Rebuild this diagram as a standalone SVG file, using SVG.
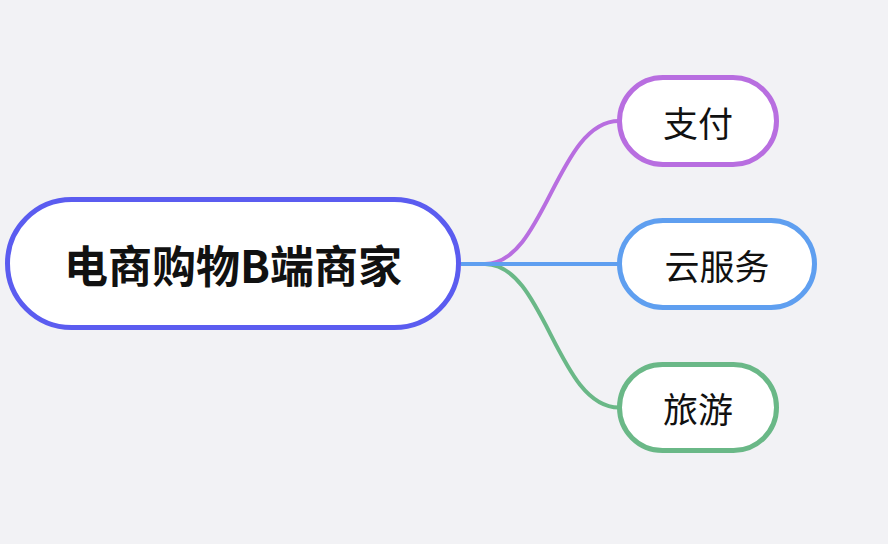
<svg xmlns="http://www.w3.org/2000/svg" width="888" height="544" viewBox="0 0 888 544">
<style>
.node{fill:#ffffff;stroke-width:5}
.lbl{font-family:"Noto Sans CJK SC","Noto Sans",sans-serif;fill:#111111;text-anchor:middle;dominant-baseline:central}
.edge{fill:none;stroke-width:4}
</style>
<rect width="888" height="544" fill="#f2f2f5"/>
<g id="connectors">
<path class="edge" d="M461 264 L485 264 C545 264 557 121 619 121" stroke="#b86ee0"/>
<path class="edge" d="M461 264 L485 264 C545 264 557 407.5 619 407.5" stroke="#6ab887"/>
<path class="edge" d="M461 264 L619 264" stroke="#5f9ff0"/>
</g>
<g id="root">
<rect class="node" x="7.5" y="199.5" width="451" height="128" rx="64" stroke="#5b5cf0"/>
<text class="lbl" x="233" y="264" font-size="44" font-weight="bold">电商购物B端商家</text>
</g>
<g id="n-pay">
<rect class="node" x="619.5" y="77.5" width="157" height="87" rx="43.5" stroke="#b86ee0"/>
<text class="lbl" x="698" y="121" font-size="35">支付</text>
</g>
<g id="n-cloud">
<rect class="node" x="619.5" y="220.5" width="195" height="87" rx="43.5" stroke="#5f9ff0"/>
<text class="lbl" x="717" y="264" font-size="35">云服务</text>
</g>
<g id="n-travel">
<rect class="node" x="619.5" y="364.5" width="157" height="86" rx="43" stroke="#6ab887"/>
<text class="lbl" x="698" y="407.5" font-size="35">旅游</text>
</g>
</svg>
